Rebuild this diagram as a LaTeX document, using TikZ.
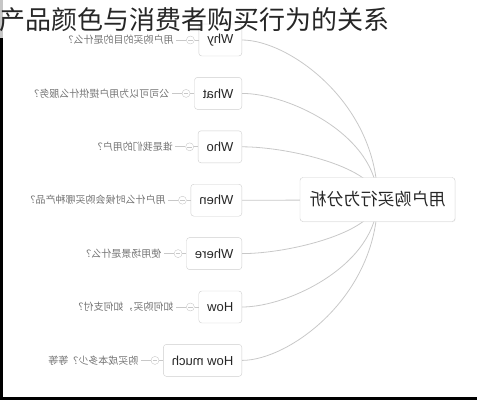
\documentclass[tikz,border=0pt]{standalone}
\usepackage{fontspec}
\setmainfont{Liberation Sans}
\newfontfamily\cjk{Noto Sans CJK SC}
\usepackage{graphicx}
\usetikzlibrary{positioning, calc, backgrounds, shadows}

\definecolor{linegray}{RGB}{200,200,200}
\definecolor{boxgray}{RGB}{206,206,206}
\definecolor{asktext}{RGB}{115,115,115}
\newcommand{\mirror}[1]{\reflectbox{#1}}

\begin{document}
\begin{tikzpicture}[x=1pt, y=-1pt,
	topic/.style={draw=boxgray, fill=white, rounded corners=3pt, minimum width=155pt, minimum height=44pt, font=\cjk\fontsize{17}{20}\selectfont, text=black!85, drop shadow={opacity=0.12, shadow xshift=0.6pt, shadow yshift=-0.6pt}},
	branch/.style={draw=boxgray, fill=white, rounded corners=3pt, minimum height=32pt, inner xsep=8.5pt, font=\fontsize{13}{15}\selectfont, text=black!85},
	marker/.style={circle, draw=linegray, fill=white, minimum size=8pt, inner sep=0pt, path picture={\draw[linegray] ([xshift=1.8pt]path picture bounding box.west) -- ([xshift=-1.8pt]path picture bounding box.east);}},
	ask/.style={inner sep=0pt, outer xsep=2.5pt, font=\cjk\fontsize{10}{12}\selectfont, text=asktext},
	link/.style={draw=linegray, line width=0.8pt}]
	\useasboundingbox (0,0) rectangle (477,400);

	% frame of the screenshot
	\fill[gray!45] (0,0) rectangle (3,38);
	\fill[black] (0,38) rectangle (3,400);
	\fill[black] (0,396.5) rectangle (477,400);

	\node[topic] (c) at (377.5,199.5) {\mirror{用户购买行为分析}};

	\foreach \i/\y/\w/\q in {1/40/Why/用户购买的目的是什么？, 2/93.4/What/公司可以为用户提供什么服务？, 3/146.8/Who/谁是我们的用户？, 4/200.2/When/用户什么时候会购买哪种产品？, 5/253.6/Where/使用场景是什么？, 6/307/How/如何购买，如何支付？, 7/360.4/How much/购买成本多少？等等}{
		\node[branch, anchor=east] (b-\i) at (242,\y) {\mirror{\w}};
		\node[marker, left=4pt of b-\i] (k-\i) {};
		\node[ask, left=10pt of k-\i] (q-\i) {\mirror{\q}};
		\draw[link] (q-\i) -- (k-\i);
		\draw[link] (k-\i) -- (b-\i);
	}

	\begin{scope}[on background layer]
		\foreach \i in {1,...,7}
			\draw[link] (c.center) .. controls ($(c.center)!0.6!(c.center |- b-\i.east)$) and ($(b-\i.east)!0.35!(b-\i.east -| c.center)$) .. (b-\i.east);
	\end{scope}

	\node[anchor=west, inner sep=0pt, font=\cjk\fontsize{26}{30}\selectfont, text=black!85] (title) at (-1,20) {产品颜色与消费者购买行为的关系};
\end{tikzpicture}
\end{document}
